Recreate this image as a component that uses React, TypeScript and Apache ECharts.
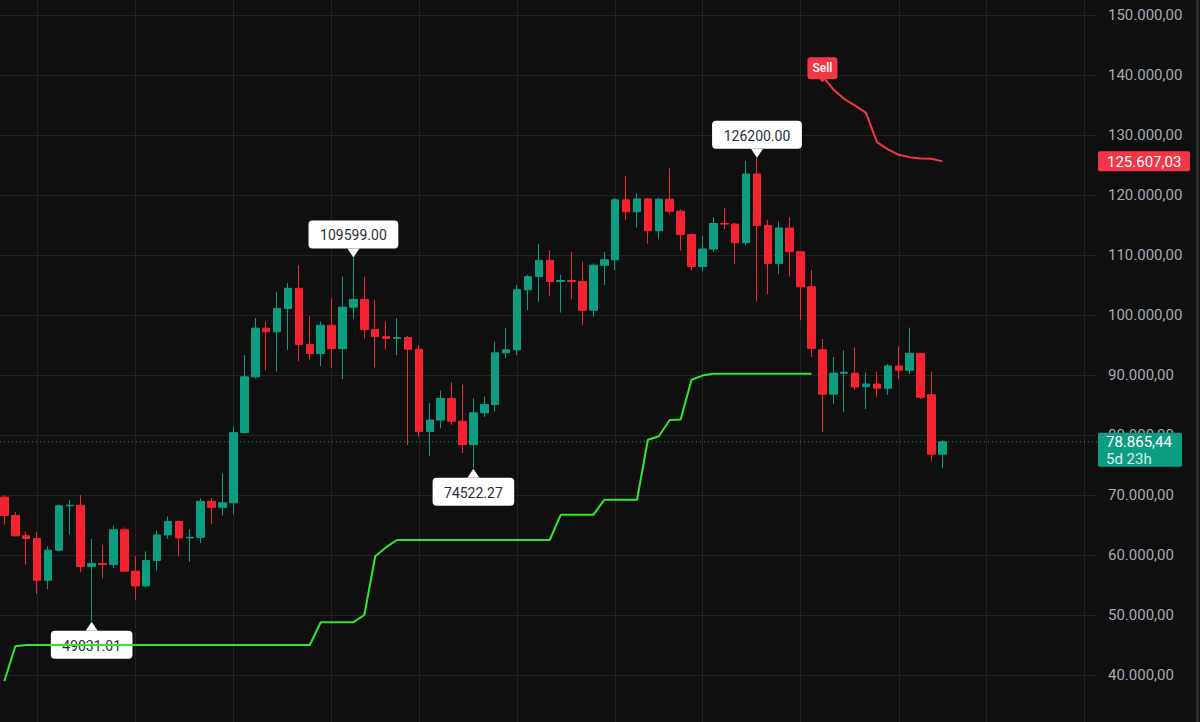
import React, { useEffect, useRef } from "react";
import * as echarts from "echarts";

// ---- data (weekly candles, BTC) ----
const START_WEEK = Date.UTC(2024, 5, 10);
const SLOT_COUNT = 100; // 87 candles + empty future slots
const categories: string[] = Array.from({ length: SLOT_COUNT }, (_, i) =>
  new Date(START_WEEK + i * 7 * 86400000).toISOString().slice(0, 10)
);

const opens = [
  69650, 66600, 63200, 62750, 55800, 60800, 68200, 68300, 58100, 58600,
  58400, 64200, 57300, 54850, 59100, 63350, 65600, 62850, 62950, 68950,
  67950, 68700, 80400, 89700, 97800, 97200, 101100, 104450, 95100, 93600,
  98300, 94400, 101300, 102600, 97600, 96400, 96100, 96250, 94300, 80600,
  82500, 86100, 82300, 78400, 83700, 85100, 93700, 94200, 104200, 106400,
  109100, 105600, 105750, 105600, 100800, 108300, 109200, 119200, 117200, 119350,
  114050, 119300, 117300, 113400, 108100, 111000, 115250, 115150, 112050, 123500,
  114900, 108600, 114500, 110550, 104700, 94200, 86800, 90300, 90300, 88050,
  88500, 87800, 91500, 90800, 93600, 86700, 76800,
];
const highs = [
  70000, 67200, 63900, 63800, 61400, 68400, 69200, 70000, 62700, 61600,
  64900, 64600, 59800, 60600, 64100, 66400, 65700, 64300, 69400, 69500,
  73600, 81400, 93300, 99500, 98900, 103900, 105300, 108300, 99800, 98900,
  102800, 106400, 109599, 106400, 102500, 98900, 99450, 96500, 95000, 85300,
  87400, 88800, 88400, 86100, 86400, 95550, 97800, 105000, 106700, 111900,
  110800, 106700, 110500, 108900, 108600, 110500, 119500, 123200, 120300, 119500,
  119500, 124450, 117600, 113600, 113200, 116300, 117800, 115400, 125700, 126200,
  115900, 115550, 116300, 110600, 107500, 96000, 93000, 94100, 94600, 90400,
  90550, 91800, 94800, 97900, 93700, 90550, 79200,
];
const lows = [
  65050, 63100, 58400, 53500, 54300, 60600, 63400, 57100, 49031.01, 56100,
  57800, 57200, 52550, 54600, 57400, 62700, 59800, 58900, 62000, 65100,
  66600, 66800, 80200, 89400, 90800, 90600, 94200, 92300, 92500, 91500,
  91200, 89300, 99400, 96100, 91300, 94200, 93300, 78300, 79700, 76500,
  81100, 81700, 77000, 74522.27, 83000, 83900, 92800, 93300, 100800, 102200,
  103200, 100400, 102600, 98300, 99700, 105000, 107500, 115800, 114600, 111900,
  112600, 116800, 110700, 107400, 107200, 110500, 114300, 108500, 111600, 102200,
  103500, 106800, 106400, 99100, 93000, 80550, 85200, 83800, 87500, 84300,
  86300, 86700, 89300, 90200, 86000, 75600, 74450,
];
const closes = [
  66600, 63200, 62750, 55800, 60800, 68200, 68300, 58100, 58600, 58400,
  64200, 57300, 54850, 59100, 63350, 65600, 62850, 62950, 68950, 67950,
  68700, 80400, 89700, 97800, 97200, 101100, 104450, 95100, 93600, 98300,
  94400, 101300, 102600, 97600, 96400, 96100, 96250, 94300, 80600, 82500,
  86100, 82300, 78400, 83700, 85100, 93700, 94200, 104200, 106400, 109100,
  105600, 105750, 105600, 100800, 108300, 109200, 119200, 117200, 119350, 114050,
  119300, 117300, 113400, 108100, 111000, 115250, 115150, 112050, 123500, 114900,
  108600, 114500, 110550, 104700, 94450, 86800, 90300, 90450, 88000, 88500,
  87800, 91500, 90800, 93600, 86300, 76800, 78865.44,
];

// Supertrend: up-trend (green) for candles 0..74, down-trend (red) for 75..86
const supertrendUp = [
  39000, 44800, 45000, 45000, 45000, 45000, 45000, 45000, 45000, 45000,
  45000, 45000, 45000, 45000, 45000, 45000, 45000, 45000, 45000, 45000,
  45000, 45000, 45000, 45000, 45000, 45000, 45000, 45000, 45000, 48800,
  48800, 48800, 48800, 50000, 59800, 61300, 62500, 62500, 62500, 62500,
  62500, 62500, 62500, 62500, 62500, 62500, 62500, 62500, 62500, 62500,
  62500, 66700, 66700, 66700, 66700, 69200, 69200, 69200, 69200, 79200,
  79800, 82500, 82600, 89200, 89900, 90200, 90200, 90200, 90200, 90200,
  90200, 90200, 90200, 90200, 90200,
];
const supertrendDown = [
  139800, 137600, 136000, 134900, 133700, 128800, 127600, 126700, 126300, 126100,
  126050, 125607.03,
];

// axis with labels (40k..150k) and the full-height data scale
const Y_MIN = 40000;
const Y_MAX = 150000;
const Y_STEP = 10000;
const DATA_Y_MIN = 32166.67;
const DATA_Y_MAX = 152500;
const monthGridIndices = [3, 12, 21, 30, 38, 47, 56, 64, 73, 82, 90, 99];

const extremeLabels = [
  { index: 32, value: 109599, text: "109599.00", side: "above" },
  { index: 69, value: 126200, text: "126200.00", side: "above" },
  { index: 43, value: 74522.27, text: "74522.27", side: "below" },
  { index: 8, value: 49031.01, text: "49031.01", side: "below" },
];
const countdownText = "5d 23h";
const signalText = "Sell";

// ---- styles ----
const BG = "#0f0f0f";
const UP = "#0d9e82";
const DOWN = "#f5222f";
const GRID = "#222222";
const AXIS_TEXT = "#a6a9b1";
const ST_GREEN = "#2ee82e";
const ST_RED = "#f23645";
const FONT = "Roboto, 'Noto Sans', sans-serif";

function fmt(v: number): string {
  const fixed = v.toFixed(2);
  const [intPart, dec] = fixed.split(".");
  const withDots = intPart.replace(/\B(?=(\d{3})+(?!\d))/g, ".");
  return withDots + "," + dec;
}

export default function App() {
  const ref = useRef<HTMLDivElement>(null);

  useEffect(() => {
    document.body.style.margin = "0";
    document.body.style.background = BG;
    if (!ref.current) return;
    const chart = echarts.init(ref.current, null, { renderer: "svg" });

    const candleData = opens.map((o, i) => [o, closes[i], lows[i], highs[i]]);
    const upLine = supertrendUp.concat(
      new Array(SLOT_COUNT - supertrendUp.length).fill(null)
    );
    const downStart = opens.length - supertrendDown.length;
    const downLine = new Array(downStart)
      .fill(null)
      .concat(supertrendDown)
      .concat(new Array(SLOT_COUNT - opens.length).fill(null));

    const monthSet = new Set(monthGridIndices);

    chart.setOption({
      animation: false,
      backgroundColor: BG,
      grid: [
        { left: 4.4, width: 1079.8, top: 0, height: 722 },
        { left: 0, width: 1096, top: 15, height: 660 },
      ],
      xAxis: [
        {
          type: "category",
          gridIndex: 0,
          data: categories,
          boundaryGap: false,
          axisLine: { show: false },
          axisTick: { show: false },
          axisLabel: { show: false },
          splitLine: {
            show: true,
            interval: (idx: number) => monthSet.has(idx),
            lineStyle: { color: GRID, width: 1 },
          },
        },
        { type: "value", gridIndex: 1, show: false },
      ],
      yAxis: [
        {
          type: "value",
          gridIndex: 0,
          min: DATA_Y_MIN,
          max: DATA_Y_MAX,
          show: false,
          splitLine: { show: false },
        },
        {
          type: "value",
          gridIndex: 1,
          position: "right",
          min: Y_MIN,
          max: Y_MAX,
          interval: Y_STEP,
          axisLine: { show: false },
          axisTick: { show: false },
          splitLine: { show: true, lineStyle: { color: GRID, width: 1 } },
          axisLabel: {
            margin: 12,
            color: AXIS_TEXT,
            fontFamily: FONT,
            fontSize: 15,
            formatter: (v: number) => fmt(v),
          },
        },
      ],
      series: [
        {
          type: "candlestick",
          xAxisIndex: 0,
          yAxisIndex: 0,
          data: candleData,
          barWidth: 8,
          clip: false,
          itemStyle: {
            color: UP,
            color0: DOWN,
            borderColor: UP,
            borderColor0: DOWN,
            borderWidth: 1,
          },
        },
        {
          type: "line",
          xAxisIndex: 0,
          yAxisIndex: 0,
          data: upLine,
          symbol: "none",
          clip: false,
          lineStyle: { color: ST_GREEN, width: 2 },
          z: 3,
        },
        {
          type: "line",
          xAxisIndex: 0,
          yAxisIndex: 0,
          data: downLine,
          symbol: "none",
          clip: false,
          lineStyle: { color: ST_RED, width: 2 },
          z: 3,
        },
      ],
    });

    const px = (i: number, v: number) =>
      chart.convertToPixel({ gridIndex: 0 }, [i, v]) as number[];

    const graphics: any[] = [];

    // current price dotted line
    const last = opens.length - 1;
    const [, pyNow] = px(last, closes[last]);
    graphics.push({
      type: "line",
      z: 1,
      shape: { x1: 0, y1: pyNow, x2: 1098, y2: pyNow },
      style: { stroke: UP, lineWidth: 1, lineDash: [1, 3] },
    });

    // extreme labels
    extremeLabels.forEach((lab) => {
      const [cx, cy] = px(lab.index, lab.value);
      const w = lab.text.length * 8.2 + 16;
      const h = 28;
      const top = lab.side === "above" ? cy - 9 - h : cy + 10;
      const baseY = lab.side === "above" ? top + h : top;
      const tipY = lab.side === "above" ? cy : cy + 1;
      graphics.push({
        type: "polygon",
        z: 1,
        shape: { points: [[cx - 6, baseY], [cx + 6, baseY], [cx, tipY]] },
        style: { fill: "#ffffff" },
      });
      graphics.push({
        type: "rect",
        z: 1,
        shape: { x: cx - w / 2, y: top, width: w, height: h, r: 4 },
        style: { fill: "#ffffff" },
      });
      graphics.push({
        type: "text",
        z: 1,
        x: cx,
        y: top + h / 2 + 1,
        style: {
          text: lab.text,
          fill: "#2a2e39",
          font: `14px ${FONT}`,
          align: "center",
          verticalAlign: "middle",
        },
      });
    });

    // Sell signal
    const [sx, sy] = px(downStart, supertrendDown[0]);
    graphics.push({
      type: "polygon",
      z: 20,
      shape: { points: [[sx - 4, sy + 2], [sx + 4, sy + 2], [sx, sy + 6]] },
      style: { fill: ST_RED },
    });
    graphics.push({
      type: "rect",
      z: 20,
      shape: { x: sx - 15, y: sy - 19, width: 30, height: 22, r: 3 },
      style: { fill: ST_RED },
    });
    graphics.push({
      type: "text",
      z: 21,
      x: sx,
      y: sy - 8,
      style: {
        text: signalText,
        fill: "#ffffff",
        font: `500 12px ${FONT}`,
        align: "center",
        verticalAlign: "middle",
      },
    });

    // right axis tags
    const stLast = supertrendDown[supertrendDown.length - 1];
    const [, pyST] = px(downStart + supertrendDown.length - 1, stLast);
    graphics.push({
      type: "rect",
      z: 30,
      shape: { x: 1098, y: pyST - 10, width: 92, height: 20, r: 2 },
      style: { fill: ST_RED },
    });
    graphics.push({
      type: "text",
      z: 31,
      x: 1107,
      y: pyST + 0.5,
      style: {
        text: fmt(stLast),
        fill: "#ffffff",
        font: `15px ${FONT}`,
        align: "left",
        verticalAlign: "middle",
      },
    });
    graphics.push({
      type: "rect",
      z: 30,
      shape: { x: 1098, y: pyNow - 9, width: 84, height: 34, r: 2 },
      style: { fill: UP },
    });
    graphics.push({
      type: "text",
      z: 31,
      x: 1106,
      y: pyNow + 0.5,
      style: {
        text: fmt(closes[last]),
        fill: "#ffffff",
        font: `15px ${FONT}`,
        align: "left",
        verticalAlign: "middle",
      },
    });
    graphics.push({
      type: "text",
      z: 31,
      x: 1106,
      y: pyNow + 17,
      style: {
        text: countdownText,
        fill: "rgba(255,255,255,0.85)",
        font: `15px ${FONT}`,
        align: "left",
        verticalAlign: "middle",
      },
    });
    // right edge border
    graphics.push({
      type: "line",
      z: 1,
      shape: { x1: 1197.5, y1: 0, x2: 1197.5, y2: 722 },
      style: { stroke: "#2a2a2a", lineWidth: 3 },
    });

    chart.setOption({ graphic: graphics });

    return () => chart.dispose();
  }, []);

  return (
    <div
      ref={ref}
      style={{ position: "fixed", left: 0, top: 0, width: 1200, height: 722 }}
    />
  );
}
